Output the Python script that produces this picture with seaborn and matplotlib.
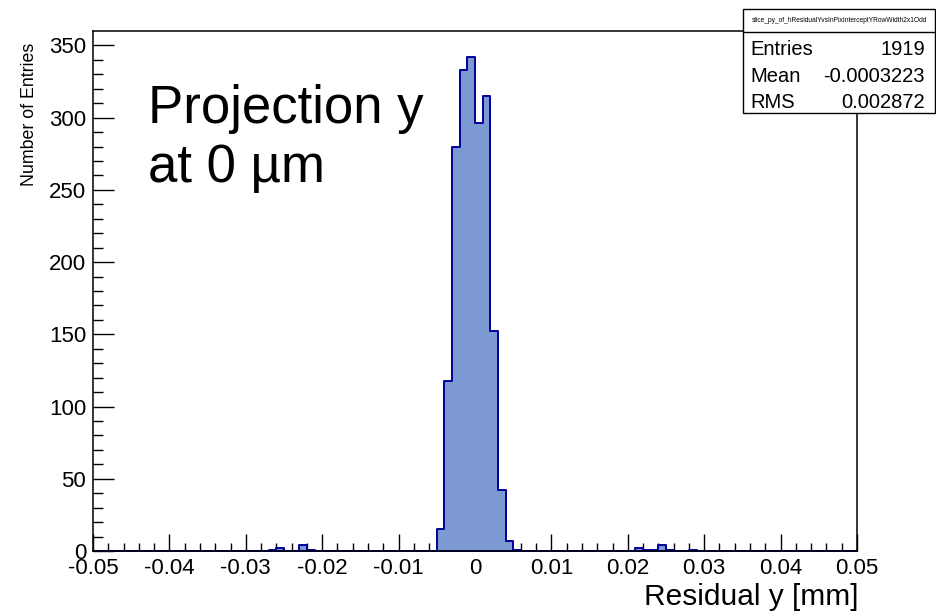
import numpy as np
import pandas as pd
import matplotlib
matplotlib.use("Agg")
import matplotlib.pyplot as plt
from matplotlib.patches import Rectangle
from matplotlib.lines import Line2D
import seaborn as sns

# ---- data ----
bin_centers = [-0.0265, -0.0255, -0.0225, -0.0215,
               -0.0045, -0.0035, -0.0025, -0.0015, -0.0005,
               0.0005, 0.0015, 0.0025, 0.0035, 0.0045, 0.0055,
               0.0215, 0.0225, 0.0235, 0.0245, 0.0255, 0.0285]
counts = [1, 2, 4, 1,
          15, 118, 280, 333, 342,
          296, 315, 152, 42, 7, 1,
          2, 1, 1, 4, 1, 1]
x_tick_values = [-0.05, -0.04, -0.03, -0.02, -0.01, 0.0, 0.01, 0.02, 0.03, 0.04, 0.05]
x_tick_labels = ["-0.05", "-0.04", "-0.03", "-0.02", "-0.01", "0",
                 "0.01", "0.02", "0.03", "0.04", "0.05"]
y_tick_values = [0, 50, 100, 150, 200, 250, 300, 350]
stat_names = ["Entries", "Mean", "RMS"]
stat_values = ["1919", "-0.0003223", "0.002872"]
hist_name = "slice_py_of_hResidualYvsInPixInterceptYRowWidth2x1Odd"
annotation = "Projection y\nat 0 µm"
x_label = "Residual y [mm]"
y_label = "Number of Entries"

df = pd.DataFrame({"residual": bin_centers, "count": counts})

sns.set_theme(style="white")
plt.rcParams["font.family"] = ["Liberation Sans", "DejaVu Sans"]

W, H = 936, 611
fig = plt.figure(figsize=(W / 100, H / 100), dpi=100)
fig.patch.set_facecolor("white")

def fx(px):
    return px / W

def fy(py):
    return 1 - py / H

ax_l, ax_r, ax_t, ax_b = 93, 857, 31, 551
ax = fig.add_axes([fx(ax_l), fy(ax_b), (ax_r - ax_l) / W, (ax_b - ax_t) / H])
ax.set_facecolor("white")

sns.histplot(data=df, x="residual", weights="count", bins=100, binrange=(-0.05, 0.05),
             element="step", fill=True, alpha=1.0, ax=ax,
             facecolor="#7d99d1", edgecolor="#000099", linewidth=1.4)

ax.set_xlim(-0.05, 0.05)
ax.set_ylim(0, 360)

ax.set_xticks(x_tick_values)
ax.set_xticklabels(x_tick_labels)
ax.set_xticks(np.arange(-0.05, 0.0501, 0.002), minor=True)
ax.set_yticks(y_tick_values)
ax.set_yticklabels([str(v) for v in y_tick_values])
ax.set_yticks(np.arange(0, 360, 10), minor=True)

ax.tick_params(axis="x", which="major", direction="in", length=12.2, width=1.0,
               color="black", labelsize=16, pad=5, top=False, bottom=True)
ax.tick_params(axis="x", which="minor", direction="in", length=5.8, width=1.0,
               color="black", top=False, bottom=True)
ax.tick_params(axis="y", which="major", direction="in", length=15, width=1.0,
               color="black", labelsize=16, pad=5, left=True, right=False)
ax.tick_params(axis="y", which="minor", direction="in", length=7.2, width=1.0,
               color="black", left=True, right=False)
for lbl in ax.get_xticklabels() + ax.get_yticklabels():
    lbl.set_color("black")

for s in ax.spines.values():
    s.set_visible(True)
    s.set_color("black")
    s.set_linewidth(1.1)

ax.set_xlabel("")
ax.set_ylabel("")

# axis titles
fig.text(fx(858), fy(605), x_label, ha="right", va="baseline", fontsize=21.5, color="black")
fig.text(fx(30), fy(43), y_label, ha="center", va="top", rotation=90, fontsize=12.8, color="black")

# big annotation (baseline given for the last line)
fig.text(fx(148), fy(182), annotation, ha="left", va="baseline", fontsize=38,
         color="black", linespacing=1.23)

# stats box
bx_l, bx_r, bx_t, bx_b, bx_sep = 743, 935, 9, 113, 32
fig.patches.append(Rectangle((fx(bx_l), fy(bx_b)), (bx_r - bx_l) / W, (bx_b - bx_t) / H,
                             transform=fig.transFigure, facecolor="white", edgecolor="black",
                             linewidth=1.0, zorder=5))
fig.lines.append(Line2D([fx(bx_l), fx(bx_r)], [fy(bx_sep), fy(bx_sep)],
                        transform=fig.transFigure, color="black", linewidth=1.0, zorder=6))
fig.text(fx((bx_l + bx_r) / 2), fy((bx_t + bx_sep) / 2), hist_name, ha="center", va="center",
         fontsize=4.8, color="black", zorder=7)
row_baselines = [55, 82, 108]
for name, val, yb in zip(stat_names, stat_values, row_baselines):
    fig.text(fx(750), fy(yb), name, ha="left", va="baseline", fontsize=14.5, color="black", zorder=7)
    fig.text(fx(925), fy(yb), val, ha="right", va="baseline", fontsize=14.5, color="black", zorder=7)

fig.savefig("out.png", dpi=100, facecolor="white")
